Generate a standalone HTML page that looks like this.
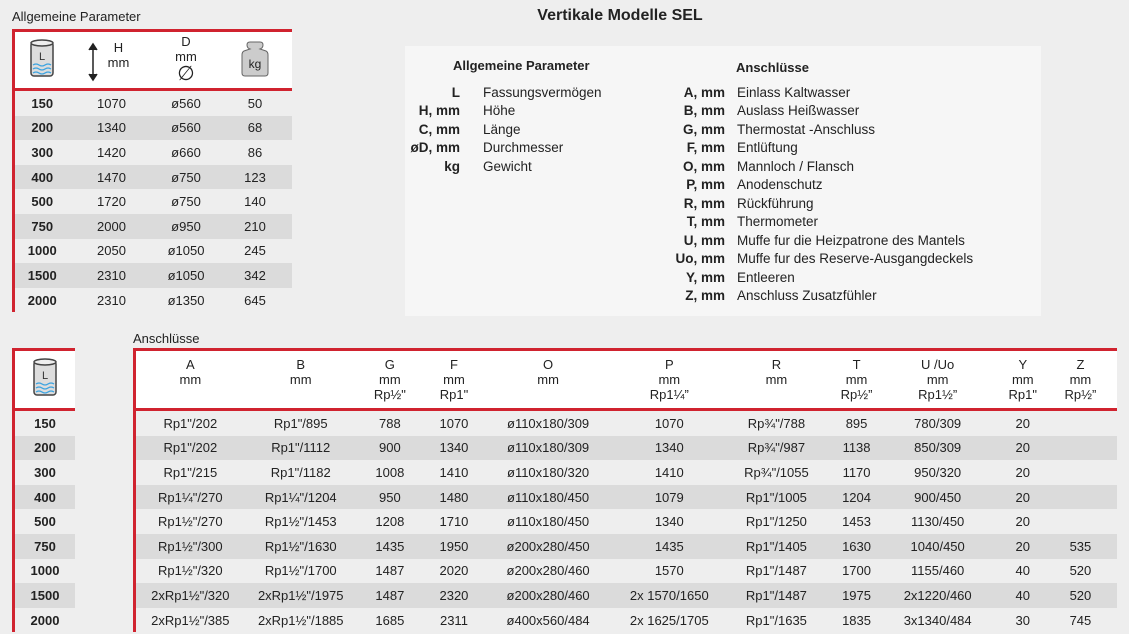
<!DOCTYPE html>
<html><head><meta charset="utf-8"><style>
body{margin:0;width:1129px;height:634px;background:#eeeeee;font-family:"Liberation Sans",sans-serif;color:#222;position:relative;overflow:hidden}
.a{position:absolute}
table{border-collapse:collapse;table-layout:fixed;font-size:13px}
td{text-align:center;padding:0;height:24.6px;white-space:nowrap}
tr.d td{background:#dbdbdb}
.hd td{background:#fff;vertical-align:top;line-height:15px;padding-top:6px}
.t{border-left:3px solid #d0232f;border-top:3px solid #d0232f}
.sep td{height:3px;background:#d0232f;padding:0}
b{font-weight:bold}
.lg div{position:absolute;font-size:13.5px;white-space:nowrap}
.r{text-align:right;font-weight:bold}
</style></head><body>
<div class="a" style="left:12px;top:9px;font-size:13px">Allgemeine Parameter</div>
<div class="a" style="left:0;width:1240px;top:7px;text-align:center;font-size:16px;font-weight:bold">Vertikale Modelle SEL</div>

<table class="a t" style="left:12px;top:29px;width:278px">
<colgroup><col style="width:56px"><col style="width:84px"><col style="width:65px"><col style="width:73px"></colgroup>
<tr class="hd"><td style="height:50px;padding-top:6px">
<svg width="26" height="42" viewBox="0 0 26 42"><rect x="2" y="4" width="22" height="34" rx="3" fill="#ddd" stroke="#444" stroke-width="1.5"/><ellipse cx="13" cy="5" rx="11" ry="3" fill="#eee" stroke="#444" stroke-width="1.5"/><text x="13" y="22" font-size="11" text-anchor="middle" fill="#333">L</text><path d="M4 27q3-2 6 0t6 0t6 0M4 31q3-2 6 0t6 0t6 0M4 35q3-2 6 0t6 0t6 0" stroke="#3aa3e0" fill="none" stroke-width="1.3"/></svg></td>
<td style="padding-top:8px"><div style="position:relative"><svg style="position:absolute;left:18px;top:2px" width="10" height="40"><path d="M5 2v36M1 8l4-6 4 6M1 32l4 6 4-6" stroke="#222" stroke-width="1.5" fill="#222"/></svg><div style="margin-left:14px">H<br>mm</div></div></td>
<td style="padding-top:2px">D<br>mm<br><span style="font-size:20px;line-height:20px">∅</span></td>
<td style="padding-top:8px"><svg width="30" height="38" viewBox="0 0 30 38"><path d="M10 2h10q3 0 3 3t-3 4l6 2q2 1 2 4v18q0 3-3 3H5q-3 0-3-3V15q0-3 2-4l6-2q-3-1-3-4t3-3z" fill="#ccc" stroke="#666"/><text x="15" y="28" font-size="12" text-anchor="middle" fill="#222">kg</text></svg></td></tr>
<tr class="sep"><td></td><td></td><td></td><td></td></tr>
<tr><td><b>150</b></td><td>1070</td><td>ø560</td><td>50</td></tr>
<tr class="d"><td><b>200</b></td><td>1340</td><td>ø560</td><td>68</td></tr>
<tr><td><b>300</b></td><td>1420</td><td>ø660</td><td>86</td></tr>
<tr class="d"><td><b>400</b></td><td>1470</td><td>ø750</td><td>123</td></tr>
<tr><td><b>500</b></td><td>1720</td><td>ø750</td><td>140</td></tr>
<tr class="d"><td><b>750</b></td><td>2000</td><td>ø950</td><td>210</td></tr>
<tr><td><b>1000</b></td><td>2050</td><td>ø1050</td><td>245</td></tr>
<tr class="d"><td><b>1500</b></td><td>2310</td><td>ø1050</td><td>342</td></tr>
<tr><td><b>2000</b></td><td>2310</td><td>ø1350</td><td>645</td></tr>
</table>

<div class="a lg" style="left:405px;top:46px;width:636px;height:270px;background:#f6f6f6">
<div style="left:48px;top:12px;font-weight:bold;font-size:13px">Allgemeine Parameter</div>
<div style="left:331px;top:14px;font-weight:bold;font-size:13px">Anschlüsse</div>
<div class="r" style="right:581px;top:39px">L</div><div style="left:78px;top:39px">Fassungsvermögen</div>
<div class="r" style="right:581px;top:57px">H, mm</div><div style="left:78px;top:57px">Höhe</div>
<div class="r" style="right:581px;top:76px">C, mm</div><div style="left:78px;top:76px">Länge</div>
<div class="r" style="right:581px;top:94px">øD, mm</div><div style="left:78px;top:94px">Durchmesser</div>
<div class="r" style="right:581px;top:113px">kg</div><div style="left:78px;top:113px">Gewicht</div>
<div class="r" style="right:316px;top:39px">A, mm</div><div style="left:332px;top:39px">Einlass Kaltwasser</div>
<div class="r" style="right:316px;top:57px">B, mm</div><div style="left:332px;top:57px">Auslass Heißwasser</div>
<div class="r" style="right:316px;top:76px">G, mm</div><div style="left:332px;top:76px">Thermostat -Anschluss</div>
<div class="r" style="right:316px;top:94px">F, mm</div><div style="left:332px;top:94px">Entlüftung</div>
<div class="r" style="right:316px;top:113px">O, mm</div><div style="left:332px;top:113px">Mannloch / Flansch</div>
<div class="r" style="right:316px;top:131px">P, mm</div><div style="left:332px;top:131px">Anodenschutz</div>
<div class="r" style="right:316px;top:150px">R, mm</div><div style="left:332px;top:150px">Rückführung</div>
<div class="r" style="right:316px;top:168px">T, mm</div><div style="left:332px;top:168px">Thermometer</div>
<div class="r" style="right:316px;top:187px">U, mm</div><div style="left:332px;top:187px">Muffe fur die Heizpatrone des Mantels</div>
<div class="r" style="right:316px;top:205px">Uo, mm</div><div style="left:332px;top:205px">Muffe fur des Reserve-Ausgangdeckels</div>
<div class="r" style="right:316px;top:224px">Y, mm</div><div style="left:332px;top:224px">Entleeren</div>
<div class="r" style="right:316px;top:242px">Z, mm</div><div style="left:332px;top:242px">Anschluss Zusatzfühler</div>
</div>

<div class="a" style="left:133px;top:331px;font-size:13px">Anschlüsse</div>

<table class="a t" style="left:12px;top:348px;width:63px">
<tr class="hd"><td style="height:51px;padding-top:6px"><svg width="26" height="42" viewBox="0 0 26 42"><rect x="2" y="4" width="22" height="34" rx="3" fill="#ddd" stroke="#444" stroke-width="1.5"/><ellipse cx="13" cy="5" rx="11" ry="3" fill="#eee" stroke="#444" stroke-width="1.5"/><text x="13" y="22" font-size="11" text-anchor="middle" fill="#333">L</text><path d="M4 27q3-2 6 0t6 0t6 0M4 31q3-2 6 0t6 0t6 0M4 35q3-2 6 0t6 0t6 0" stroke="#3aa3e0" fill="none" stroke-width="1.3"/></svg></td></tr>
<tr class="sep"><td></td></tr>
<tr><td><b>150</b></td></tr><tr class="d"><td><b>200</b></td></tr><tr><td><b>300</b></td></tr><tr class="d"><td><b>400</b></td></tr><tr><td><b>500</b></td></tr><tr class="d"><td><b>750</b></td></tr><tr><td><b>1000</b></td></tr><tr class="d"><td><b>1500</b></td></tr><tr><td><b>2000</b></td></tr>
</table>

<table class="a t" style="left:133px;top:348px;width:984px">
<colgroup><col style="width:110px"><col style="width:112px"><col style="width:66px"><col style="width:62px"><col style="width:126px"><col style="width:116px"><col style="width:98px"><col style="width:62px"><col style="width:100px"><col style="width:70px"><col style="width:59px"></colgroup>
<tr class="hd"><td style="height:51px">A<br>mm</td><td>B<br>mm</td><td>G<br>mm<br>Rp½"</td><td>F<br>mm<br>Rp1"</td><td>O<br>mm</td><td>P<br>mm<br>Rp1¼”</td><td>R<br>mm</td><td>T<br>mm<br>Rp½”</td><td>U /Uo<br>mm<br>Rp1½”</td><td>Y<br>mm<br>Rp1"</td><td style="padding-right:14px">Z<br>mm<br>Rp½”</td></tr>
<tr class="sep"><td></td><td></td><td></td><td></td><td></td><td></td><td></td><td></td><td></td><td></td><td></td></tr>
<tr><td>Rp1"/202</td><td>Rp1"/895</td><td>788</td><td>1070</td><td>ø110x180/309</td><td>1070</td><td>Rp¾"/788</td><td>895</td><td>780/309</td><td>20</td><td></td></tr>
<tr class="d"><td>Rp1"/202</td><td>Rp1"/1112</td><td>900</td><td>1340</td><td>ø110x180/309</td><td>1340</td><td>Rp¾"/987</td><td>1138</td><td>850/309</td><td>20</td><td></td></tr>
<tr><td>Rp1"/215</td><td>Rp1"/1182</td><td>1008</td><td>1410</td><td>ø110x180/320</td><td>1410</td><td>Rp¾"/1055</td><td>1170</td><td>950/320</td><td>20</td><td></td></tr>
<tr class="d"><td>Rp1¼"/270</td><td>Rp1¼"/1204</td><td>950</td><td>1480</td><td>ø110x180/450</td><td>1079</td><td>Rp1"/1005</td><td>1204</td><td>900/450</td><td>20</td><td></td></tr>
<tr><td>Rp1½"/270</td><td>Rp1½"/1453</td><td>1208</td><td>1710</td><td>ø110x180/450</td><td>1340</td><td>Rp1"/1250</td><td>1453</td><td>1130/450</td><td>20</td><td></td></tr>
<tr class="d"><td>Rp1½"/300</td><td>Rp1½"/1630</td><td>1435</td><td>1950</td><td>ø200x280/450</td><td>1435</td><td>Rp1"/1405</td><td>1630</td><td>1040/450</td><td>20</td><td style="padding-right:14px">535</td></tr>
<tr><td>Rp1½"/320</td><td>Rp1½"/1700</td><td>1487</td><td>2020</td><td>ø200x280/460</td><td>1570</td><td>Rp1"/1487</td><td>1700</td><td>1155/460</td><td>40</td><td style="padding-right:14px">520</td></tr>
<tr class="d"><td>2xRp1½"/320</td><td>2xRp1½"/1975</td><td>1487</td><td>2320</td><td>ø200x280/460</td><td>2x 1570/1650</td><td>Rp1"/1487</td><td>1975</td><td>2x1220/460</td><td>40</td><td style="padding-right:14px">520</td></tr>
<tr><td>2xRp1½"/385</td><td>2xRp1½"/1885</td><td>1685</td><td>2311</td><td>ø400x560/484</td><td>2x 1625/1705</td><td>Rp1"/1635</td><td>1835</td><td>3x1340/484</td><td>30</td><td style="padding-right:14px">745</td></tr>
</table>
</body></html>
